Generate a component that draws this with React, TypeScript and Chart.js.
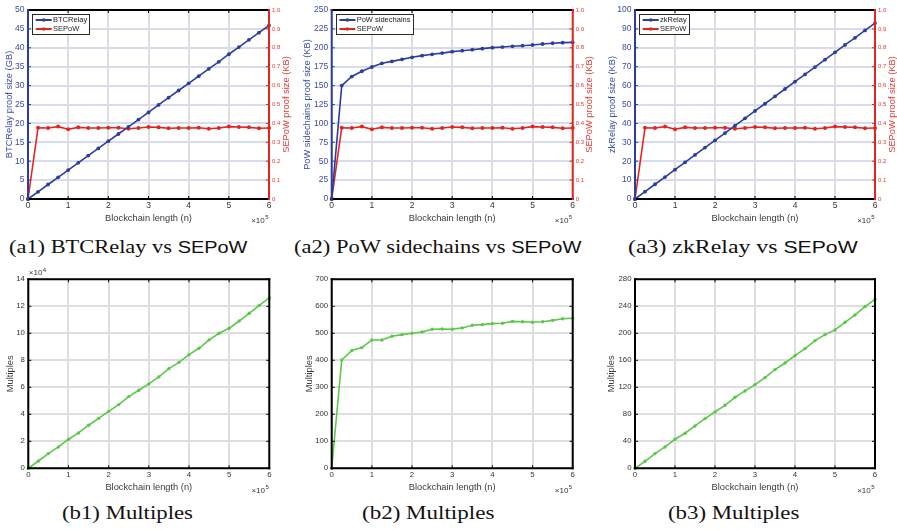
import React, { useEffect, useLayoutEffect, useRef, useState } from 'react';
import { Chart, registerables } from 'chart.js';

Chart.register(...registerables);

const SANS = '"Liberation Sans", Arial, Helvetica, sans-serif';
const SERIF = '"Liberation Serif", "Times New Roman", serif';

// Blockchain length (n), in units of 10^5 blocks
const blockLengths = [0, 0.25, 0.5, 0.75, 1, 1.25, 1.5, 1.75, 2, 2.25, 2.5, 2.75, 3, 3.25, 3.5, 3.75, 4, 4.25, 4.5, 4.75, 5, 5.25, 5.5, 5.75, 6];

// proof sizes
const btcRelayGB = [0, 1.91, 3.83, 5.74, 7.65, 9.56, 11.48, 13.39, 15.3, 17.2, 19.1, 21.0, 22.9, 24.9, 26.8, 28.7, 30.6, 32.5, 34.4, 36.3, 38.3, 40.2, 42.1, 44.0, 45.9];
const powSidechainsKB = [0, 150, 162, 169, 174.6, 179.5, 182, 184.7, 187.4, 189.6, 191.4, 193, 194.9, 196.2, 197.5, 198.9, 200.2, 201, 202, 202.8, 203.7, 205, 206, 206.8, 207.2];
const zkRelayKB = [0, 3.9, 7.8, 11.6, 15.5, 19.4, 23.3, 27.2, 31.0, 34.9, 38.8, 42.7, 46.6, 50.4, 54.3, 58.2, 62.1, 65.9, 69.8, 73.7, 77.6, 81.5, 85.3, 89.2, 93.1];
const sepowKB = [0, 0.377, 0.376, 0.383, 0.369, 0.379, 0.376, 0.376, 0.377, 0.377, 0.372, 0.376, 0.381, 0.379, 0.374, 0.376, 0.376, 0.377, 0.372, 0.376, 0.383, 0.381, 0.379, 0.374, 0.376];

// multiples
const multiplesBtcRelay = [0, 0.54, 1.09, 1.58, 2.15, 2.62, 3.19, 3.70, 4.22, 4.72, 5.31, 5.78, 6.25, 6.77, 7.38, 7.85, 8.42, 8.89, 9.51, 10.0, 10.37, 10.91, 11.48, 12.07, 12.62]; // ×10^4
const multiplesPowSidechains = [0, 401, 436, 447, 475, 475, 489, 495, 500, 505, 515, 516, 515, 520, 530, 532, 536, 537, 544, 543, 541, 543, 548, 554, 556];
const multiplesZkRelay = [0, 10.4, 21.7, 31.6, 43, 51.9, 62.7, 73.6, 83.5, 93.3, 105.2, 114.6, 124, 134.3, 146.2, 156, 166.9, 177.3, 189.1, 198, 205, 216.3, 227.2, 239.5, 250.4];

const BLUE = '#2c3d9f';
const BLUE_TEXT = '#3b4caa';
const RED = '#e2261f';
const RED_TEXT = '#e43a33';
const GREEN = '#5cc84a';
const V_GRID = '#dedede';
const H_GRID_A = '#d8daf0';
const TICK_GRAY = '#333333';
const TITLE_GRAY = '#3a3a3a';

type SeriesSpec = { label: string; values: number[]; color: string; axisID: string; radius: number };

type PanelSpec = {
  key: string;
  left: number; top: number; width: number; height: number;
  plot: [number, number, number, number];
  yMax: number; yStep: number;
  yTitle: string; yTitleX: number;
  axisColor: string; yTickColor: string; yTitleColor: string; hGrid: string;
  right?: { title: string; titleX: number };
  series: SeriesSpec[];
  legend: boolean;
  yExponent?: string;
  tickSize: number;
};

const TITLE_SIZE = 9.3;

function line(ctx: CanvasRenderingContext2D, x1: number, y1: number, x2: number, y2: number, color: string) {
  ctx.strokeStyle = color;
  ctx.beginPath();
  ctx.moveTo(x1, y1);
  ctx.lineTo(x2, y2);
  ctx.stroke();
}

function makeConfig(p: PanelSpec): any {
  const pl = p.plot[0] - p.left;
  const pt = p.plot[1] - p.top;
  const pr = p.plot[2] - p.left;
  const pb = p.plot[3] - p.top;
  const half = (TITLE_SIZE * 1.2) / 2;
  const dual = !!p.right;

  const datasets = p.series.map((s) => ({
    label: s.label,
    data: blockLengths.map((x, i) => ({ x, y: s.values[i] })),
    borderColor: s.color,
    backgroundColor: s.color,
    borderWidth: 1.6,
    pointRadius: s.radius,
    pointHoverRadius: s.radius,
    pointBorderWidth: 0,
    pointBackgroundColor: s.color,
    yAxisID: s.axisID,
    tension: 0,
    clip: 6,
  }));

  const scales: any = {
    x: {
      type: 'linear', position: 'bottom', min: 0, max: 6,
      ticks: { stepSize: 1, autoSkip: false, maxRotation: 0, padding: 1.5, color: TICK_GRAY, font: { family: SANS, size: p.tickSize } },
      grid: { color: V_GRID, lineWidth: 2, drawTicks: false },
      border: { display: false },
      title: {
        display: true, text: 'Blockchain length (n)', color: TITLE_GRAY,
        font: { family: SANS, size: TITLE_SIZE },
        padding: { top: 0, bottom: p.height - pb - 19.6 - half },
      },
      afterFit: (s: any) => { s.height = p.height - pb; },
    },
    y: {
      type: 'linear', position: 'left', min: 0, max: p.yMax,
      ticks: { stepSize: p.yStep, autoSkip: false, padding: 3.5, color: p.yTickColor, font: { family: SANS, size: p.tickSize } },
      grid: { color: p.hGrid, lineWidth: 2, drawTicks: false },
      border: { display: false },
      title: {
        display: true, text: p.yTitle, color: p.yTitleColor,
        font: { family: SANS, size: TITLE_SIZE },
        padding: { top: p.yTitleX - p.left - half, bottom: 0 },
      },
      afterFit: (s: any) => { s.width = pl; },
    },
  };
  if (dual) {
    scales.y2 = {
      type: 'linear', position: 'right', min: 0, max: 1,
      ticks: { stepSize: 0.1, autoSkip: false, padding: 3, color: RED_TEXT, font: { family: SANS, size: 6 } },
      grid: { display: false, drawTicks: false },
      border: { display: false },
      afterFit: (s: any) => { s.width = p.width - pr; },
    };
  }

  const overlay = {
    id: 'overlay',
    afterDraw(chart: any) {
      const ctx: CanvasRenderingContext2D = chart.ctx;
      const ca = chart.chartArea;
      const TICK = 3;
      ctx.save();
      ctx.lineWidth = 1;
      const xs = chart.scales.x;
      xs.ticks.forEach((t: any) => {
        const x = xs.getPixelForValue(t.value);
        line(ctx, x, ca.bottom, x, ca.bottom - TICK, '#000');
        line(ctx, x, ca.top, x, ca.top + TICK, '#000');
      });
      const ys = chart.scales.y;
      ys.ticks.forEach((t: any) => {
        const y = ys.getPixelForValue(t.value);
        line(ctx, ca.left, y, ca.left + TICK, y, p.axisColor);
        if (!dual) line(ctx, ca.right, y, ca.right - TICK, y, '#000');
      });
      if (dual) {
        const y2 = chart.scales.y2;
        y2.ticks.forEach((t: any) => {
          const y = y2.getPixelForValue(t.value);
          line(ctx, ca.right, y, ca.right - TICK, y, RED);
        });
      }
      // box
      ctx.lineWidth = 2;
      ctx.lineCap = 'square';
      line(ctx, ca.left, ca.top, ca.right, ca.top, '#000');
      line(ctx, ca.left, ca.bottom, ca.right, ca.bottom, '#000');
      line(ctx, ca.left, ca.top, ca.left, ca.bottom, p.axisColor);
      line(ctx, ca.right, ca.top, ca.right, ca.bottom, dual ? RED : '#000');
      ctx.lineCap = 'butt';

      // right axis title
      if (p.right) {
        ctx.save();
        ctx.translate(p.right.titleX - p.left, (ca.top + ca.bottom) / 2);
        ctx.rotate(-Math.PI / 2);
        ctx.font = `${TITLE_SIZE}px ${SANS}`;
        ctx.fillStyle = RED_TEXT;
        ctx.textAlign = 'center';
        ctx.textBaseline = 'middle';
        ctx.fillText(p.right.title, 0, 0);
        ctx.restore();
      }

      // x exponent
      ctx.fillStyle = TICK_GRAY;
      ctx.textAlign = 'right';
      ctx.textBaseline = 'alphabetic';
      ctx.font = `6px ${SANS}`;
      ctx.fillText('5', ca.right - 0.5, ca.bottom + 20.3);
      ctx.font = `8px ${SANS}`;
      ctx.fillText('\u00d710', ca.right - 4.3, ca.bottom + 24.3);

      // y exponent
      if (p.yExponent) {
        ctx.textAlign = 'left';
        ctx.font = `8px ${SANS}`;
        ctx.fillText('\u00d710', ca.left + 0.5, ca.top - 4.3);
        const w = ctx.measureText('\u00d710').width;
        ctx.font = `6px ${SANS}`;
        ctx.fillText(p.yExponent, ca.left + 0.8 + w, ca.top - 7.3);
      }

      // legend
      if (p.legend) {
        ctx.font = `7.5px ${SANS}`;
        const tw = Math.max(...p.series.map((s) => ctx.measureText(s.label).width));
        const bx = ca.left + 4.3;
        const by = ca.top + 4.3;
        const bw = 20.7 + tw + 2.5;
        const bh = 20;
        ctx.fillStyle = '#fff';
        ctx.fillRect(bx, by, bw, bh);
        ctx.lineWidth = 1;
        ctx.strokeStyle = '#2a2a2a';
        ctx.strokeRect(Math.round(bx) + 0.5, Math.round(by) + 0.5, Math.round(bw), Math.round(bh));
        p.series.forEach((s, i) => {
          const cy = by + 5.7 + i * 9;
          ctx.lineWidth = 2;
          line(ctx, bx + 3.4, cy, bx + 19.4, cy, s.color);
          ctx.fillStyle = s.color;
          ctx.beginPath();
          ctx.arc(bx + 11.4, cy, 1.8, 0, Math.PI * 2);
          ctx.fill();
          ctx.fillStyle = '#1a1a1a';
          ctx.textAlign = 'left';
          ctx.textBaseline = 'middle';
          ctx.fillText(s.label, bx + 20.7, cy + 0.3);
        });
      }
      ctx.restore();
    },
  };

  return {
    type: 'line',
    data: { datasets },
    options: {
      responsive: false,
      maintainAspectRatio: false,
      devicePixelRatio: 1,
      animation: false,
      events: [],
      layout: { padding: { top: pt, left: 0, right: dual ? 0 : p.width - pr, bottom: 0 } },
      plugins: { legend: { display: false }, tooltip: { enabled: false }, title: { display: false } },
      scales,
    },
    plugins: [overlay],
  };
}

function Panel({ spec }: { spec: PanelSpec }) {
  const ref = useRef<HTMLCanvasElement>(null);
  useEffect(() => {
    const chart = new Chart(ref.current as HTMLCanvasElement, makeConfig(spec));
    return () => chart.destroy();
  }, []);
  return (
    <canvas
      ref={ref}
      width={spec.width}
      height={spec.height}
      style={{ position: 'absolute', left: spec.left, top: spec.top, width: spec.width, height: spec.height }}
    />
  );
}

function Caption({ text, sepow, x0, x1, baseline }: { text: string; sepow: boolean; x0: number; x1: number; baseline: number }) {
  const ref = useRef<HTMLDivElement>(null);
  const [scale, setScale] = useState(1);
  useLayoutEffect(() => {
    const el = ref.current;
    if (el && el.offsetWidth > 0) setScale((x1 - x0) / el.offsetWidth);
  }, []);
  const size = 18;
  return (
    <div
      ref={ref}
      style={{
        position: 'absolute', left: x0, top: baseline - 0.838 * size, whiteSpace: 'nowrap',
        fontFamily: SERIF, fontSize: size, lineHeight: `${size}px`, color: '#111',
        transform: `scaleX(${scale})`, transformOrigin: 'left top',
      }}
    >
      {text}
      {sepow && <span style={{ fontFamily: SANS, fontSize: 16 }}>SEPoW</span>}
    </div>
  );
}

const panelA = (key: string, left: number, width: number, plotL: number, plotR: number, yMax: number, yStep: number, yTitle: string, yTitleX: number, rightX: number, label: string, values: number[]): PanelSpec => ({
  key, left, top: 0, width, height: 232,
  plot: [plotL, 10, plotR, 199],
  yMax, yStep, yTitle, yTitleX,
  axisColor: BLUE, yTickColor: BLUE_TEXT, yTitleColor: BLUE_TEXT, hGrid: H_GRID_A,
  right: { title: 'SEPoW proof size (KB)', titleX: rightX },
  series: [
    { label, values, color: BLUE, axisID: 'y', radius: 1.9 },
    { label: 'SEPoW', values: sepowKB, color: RED, axisID: 'y2', radius: 2 },
  ],
  legend: true,
  tickSize: 8.5,
});

const panelB = (key: string, left: number, width: number, plotL: number, plotR: number, yMax: number, yStep: number, yTitleX: number, values: number[], yExponent?: string): PanelSpec => ({
  key, left, top: 268, width, height: 232,
  plot: [plotL, 279.3, plotR, 468.3],
  yMax, yStep, yTitle: 'Multiples', yTitleX,
  axisColor: '#000', yTickColor: TICK_GRAY, yTitleColor: TITLE_GRAY, hGrid: V_GRID,
  series: [{ label: 'Multiples', values, color: GREEN, axisID: 'y', radius: 1.7 }],
  legend: false,
  yExponent,
  tickSize: 7.8,
});

const panels: PanelSpec[] = [
  panelA('a1', 0, 300, 28, 269, 50, 5, 'BTCRelay proof size (GB)', 9, 286.5, 'BTCRelay', btcRelayGB),
  panelA('a2', 300, 300, 331.7, 572.7, 250, 25, 'PoW sidechains proof size (KB)', 307.8, 589.5, 'PoW sidechains', powSidechainsKB),
  panelA('a3', 600, 297, 635, 875, 100, 10, 'zkRelay proof size (KB)', 612, 892.5, 'zkRelay', zkRelayKB),
  panelB('b1', 0, 300, 28.3, 269.3, 14, 2, 10, multiplesBtcRelay, '4'),
  panelB('b2', 300, 300, 331.7, 572.7, 700, 100, 309.3, multiplesPowSidechains),
  panelB('b3', 600, 297, 635, 875, 280, 40, 611.7, multiplesZkRelay),
];

const captions = [
  { text: '(a1) BTCRelay vs ', sepow: true, x0: 9, x1: 248, baseline: 253.3 },
  { text: '(a2) PoW sidechains vs ', sepow: true, x0: 294, x1: 581.7, baseline: 253.3 },
  { text: '(a3) zkRelay vs ', sepow: true, x0: 628, x1: 857, baseline: 253.3 },
  { text: '(b1) Multiples', sepow: false, x0: 61.7, x1: 193.3, baseline: 519 },
  { text: '(b2) Multiples', sepow: false, x0: 362, x1: 495, baseline: 519 },
  { text: '(b3) Multiples', sepow: false, x0: 668, x1: 800, baseline: 519 },
];

export default function App() {
  return (
    <div style={{ position: 'fixed', left: 0, top: 0, width: 897, height: 530, background: '#fff', overflow: 'hidden' }}>
      {panels.map((p) => <Panel key={p.key} spec={p} />)}
      {captions.map((c) => <Caption key={c.text} {...c} />)}
    </div>
  );
}
